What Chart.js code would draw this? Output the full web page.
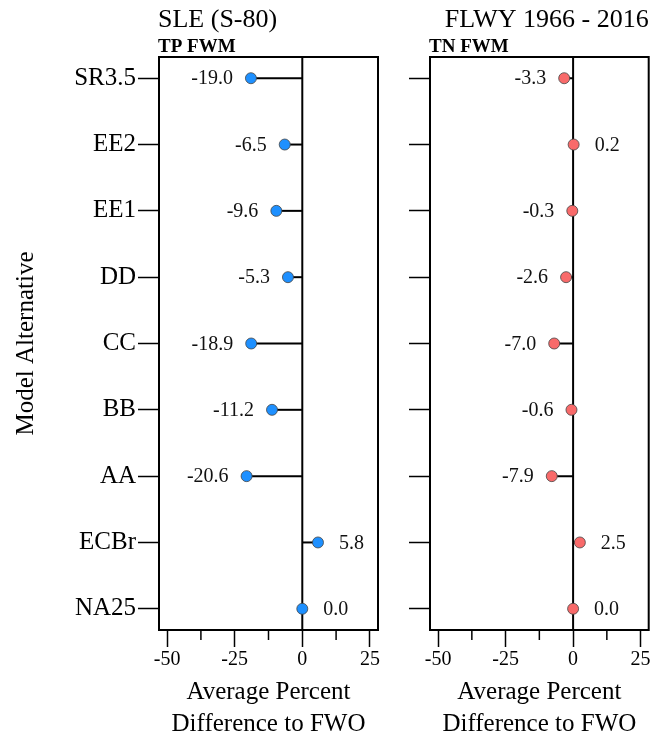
<!DOCTYPE html>
<html>
<head>
<meta charset="utf-8">
<script src="https://cdn.jsdelivr.net/npm/chart.js@4"></script>
<style>
  html, body { margin:0; padding:0; background:#fff; }
  #wrap { position:relative; width:655px; height:738px; overflow:hidden; }
  canvas { position:absolute; top:0; }
</style>
</head>
<body>
<div id="wrap">
  <canvas id="cLeft" width="400" height="738" style="left:0"></canvas>
  <canvas id="cRight" width="255" height="738" style="left:400px"></canvas>
</div>
<script>
// ---- data ----
const categories = ['SR3.5', 'EE2', 'EE1', 'DD', 'CC', 'BB', 'AA', 'ECBr', 'NA25'];
const tpValues = [-19.0, -6.5, -9.6, -5.3, -18.9, -11.2, -20.6, 5.8, 0.0];
const tnValues = [-3.3, 0.2, -0.3, -2.6, -7.0, -0.6, -7.9, 2.5, 0.0];
const xMajorTicks = [-50, -25, 0, 25];
const xMinorTicks = [-37.5, -12.5, 12.5];
const mainTitle = 'SLE (S-80)';
const periodTitle = 'FLWY 1966 - 2016';
const leftSubtitle = 'TP FWM';
const rightSubtitle = 'TN FWM';

const FONT = "'Liberation Serif', 'Times New Roman', serif";
const N = categories.length;
const yPos = categories.map((c, i) => N - i);

function buildChart(canvasId, values, color, opts) {
  const segDatasets = values.map((v, i) => ({
    type: 'line',
    data: [{x: 0, y: yPos[i]}, {x: v, y: yPos[i]}],
    borderColor: '#000',
    borderWidth: 2,
    pointRadius: 0,
    showLine: true,
    order: 2
  }));
  const dotDataset = {
    type: 'scatter',
    data: values.map((v, i) => ({x: v, y: yPos[i]})),
    backgroundColor: color,
    borderColor: '#444',
    borderWidth: 0.8,
    pointRadius: 5.5,
    order: 1
  };

  const panelPlugin = {
    id: 'panel' + canvasId,
    beforeDatasetsDraw(chart) {
      const {ctx, chartArea: a, scales: {x}} = chart;
      ctx.save();
      ctx.strokeStyle = '#000';
      ctx.lineWidth = 2;
      const x0 = x.getPixelForValue(0);
      ctx.beginPath();
      ctx.moveTo(x0, a.top);
      ctx.lineTo(x0, a.bottom);
      ctx.stroke();
      ctx.restore();
    },
    afterDatasetsDraw(chart) {
      const {ctx, chartArea: a, scales: {x, y}} = chart;
      ctx.save();
      // box
      ctx.strokeStyle = '#000';
      ctx.lineWidth = 2;
      ctx.strokeRect(a.left, a.top, a.right - a.left, a.bottom - a.top);
      // minor ticks
      ctx.lineWidth = 1.5;
      xMinorTicks.forEach(t => {
        const px = x.getPixelForValue(t);
        ctx.beginPath();
        ctx.moveTo(px, a.bottom);
        ctx.lineTo(px, a.bottom + 10);
        ctx.stroke();
      });
      // value labels
      ctx.fillStyle = '#111';
      ctx.font = '20px ' + FONT;
      ctx.textBaseline = 'middle';
      values.forEach((v, i) => {
        const px = x.getPixelForValue(v);
        const py = y.getPixelForValue(yPos[i]);
        const txt = v.toFixed(1);
        if (v < 0) {
          ctx.textAlign = 'right';
          ctx.fillText(txt, px - 18, py + 1);
        } else {
          ctx.textAlign = 'left';
          ctx.fillText(txt, px + 21, py + 1);
        }
      });
      // titles
      ctx.fillStyle = '#000';
      ctx.textBaseline = 'alphabetic';
      ctx.font = '26px ' + FONT;
      if (opts.titleAlign === 'left') {
        ctx.textAlign = 'left';
        ctx.fillText(opts.title, a.left - 1, 27);
      } else {
        ctx.textAlign = 'right';
        ctx.fillText(opts.title, a.right, 27);
      }
      ctx.font = 'bold 19px ' + FONT;
      ctx.textAlign = 'left';
      ctx.fillText(opts.subtitle, a.left - 1, 52);
      ctx.restore();
    }
  };

  return new Chart(document.getElementById(canvasId), {
    type: 'scatter',
    data: { datasets: [...segDatasets, dotDataset] },
    options: {
      responsive: false,
      animation: false,
      devicePixelRatio: 1,
      layout: { padding: { top: 57, right: opts.padRight, bottom: 0, left: 0 } },
      plugins: { legend: { display: false }, tooltip: { enabled: false } },
      scales: {
        x: {
          type: 'linear', min: -53, max: 28,
          afterBuildTicks: s => { s.ticks = xMajorTicks.map(v => ({value: v})); },
          ticks: { callback: v => String(v), font: { family: FONT, size: 20 }, color: '#000', padding: 1, maxRotation: 0, autoSkip: false },
          grid: { drawOnChartArea: false, tickLength: 17, tickColor: '#000', tickWidth: 1.5 },
          border: { display: true, color: '#000', width: 2 },
          title: { display: true, text: ['Average Percent', 'Difference to FWO'], font: { family: FONT, size: 25, lineHeight: 1.3 }, color: '#000', padding: { top: 0, bottom: -3 } },
          afterFit: s => { s.height = 108; }
        },
        y: {
          type: 'linear', min: 0.68, max: 9.32,
          afterBuildTicks: s => { s.ticks = yPos.map(v => ({value: v})); },
          ticks: {
            callback: v => opts.showLabels ? categories[N - Math.round(v)] : '',
            font: { family: FONT, size: 25 }, color: '#000', padding: 2, autoSkip: false
          },
          grid: { drawOnChartArea: false, tickLength: 21, tickColor: '#000', tickWidth: 1.5 },
          border: { display: true, color: '#000', width: 2 },
          title: { display: opts.showLabels, text: 'Model Alternative', font: { family: FONT, size: 25, lineHeight: 1.2 }, color: '#000', padding: { top: 11, bottom: 0 } },
          afterFit: s => { s.width = opts.yWidth; }
        }
      }
    },
    plugins: [panelPlugin]
  });
}

buildChart('cLeft', tpValues, '#1E90FF', { showLabels: true, yWidth: 159, padRight: 22, title: mainTitle, titleAlign: 'left', subtitle: leftSubtitle });
buildChart('cRight', tnValues, '#F86A6A', { showLabels: false, yWidth: 30, padRight: 6, title: periodTitle, titleAlign: 'right', subtitle: rightSubtitle });
</script>
</body>
</html>
